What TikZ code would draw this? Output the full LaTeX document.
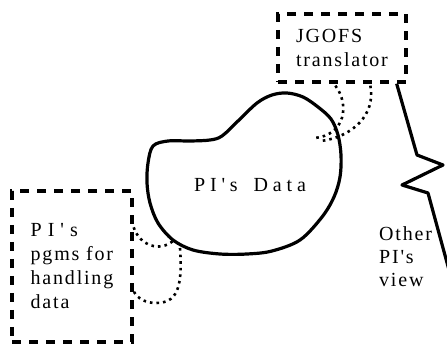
\documentclass[tikz,border=0pt]{standalone}
\usepackage{fontspec}
\setmainfont{Liberation Serif}
\newfontfamily\spfont[LetterSpace=9]{Liberation Serif}
\newfontfamily\widefont[LetterSpace=30]{Liberation Serif}
\newfontfamily\blobfont[LetterSpace=24]{Liberation Serif}
\usetikzlibrary{calc}
\begin{document}
\begin{tikzpicture}[x=1pt,y=-1pt,
  dbox/.style={draw, line width=3.3pt, dash pattern=on 9pt off 8pt, inner sep=0pt,
    align=left, font=\spfont\fontsize{20}{24}\selectfont},
  dotline/.style={line width=2.6pt, dash pattern=on 2.6pt off 4pt},
  solidline/.style={line width=3.2pt, line join=round},
  lbl/.style={inner sep=0pt, align=left, font=\spfont\fontsize{20}{23}\selectfont}]
\useasboundingbox (0,0) rectangle (447,344);

% boxes
\node[dbox, minimum width=128pt, minimum height=68pt] (jg) at (342,48) {JGOFS\\translator};
\node[dbox, minimum width=120pt, minimum height=151pt] (pb) at (72,266.5)
  {{\widefont PI's}\\pgms for\\handling\\data};

% blob
\draw[solidline] plot[smooth cycle, tension=0.55] coordinates {
  (287,93) (303,97) (318,107) (331,119) (338,135) (341,155) (340,177)
  (334,197) (322,217) (300,240) (272,251) (247,254) (220,254) (193,250)
  (173,240) (158,223) (150,203) (147,183) (148,163) (153,146) (168,141)
  (190,141) (210,140) (222,136) (238,121) (257,103) (272,95)};
\node[lbl, anchor=base west, font=\blobfont\fontsize{20}{23}\selectfont] (data) at (194,192) {PI's\hspace{16pt}Data};

% connector end points on the blob
\coordinate (bA) at (315,138);
\coordinate (bB) at (321,141);
\coordinate (bC) at (173,241);
\coordinate (bD) at (180,248);

% dotted connectors
\draw[dotline] ($(jg.south west)+(59,2)$) .. controls (350,105) and (345,135) .. (bA);
\draw[dotline] ($(jg.south west)+(94,2)$) .. controls (376,115) and (352,137) .. (bB);
\draw[dotline] ($(pb.north east)+(0,38)$) .. controls (140,246) and (160,252) .. (bC);
\draw[dotline] (bD) .. controls (183,290) and (176,303) .. (156,303)
  .. controls (146,303) and (138,299) .. ($(pb.north east)+(0,102)$);

% lightning
\coordinate (lend) at (449,270);
\draw[solidline] ($(jg.south east)+(-11,0)$) -- (417,155) -- (443,165) -- (402,185)
  -- (428,193) -- (lend);

% other PI's view
\node[lbl, anchor=north west] (other) at (379,226) {Other\\PI's\\view};
\end{tikzpicture}
\end{document}
